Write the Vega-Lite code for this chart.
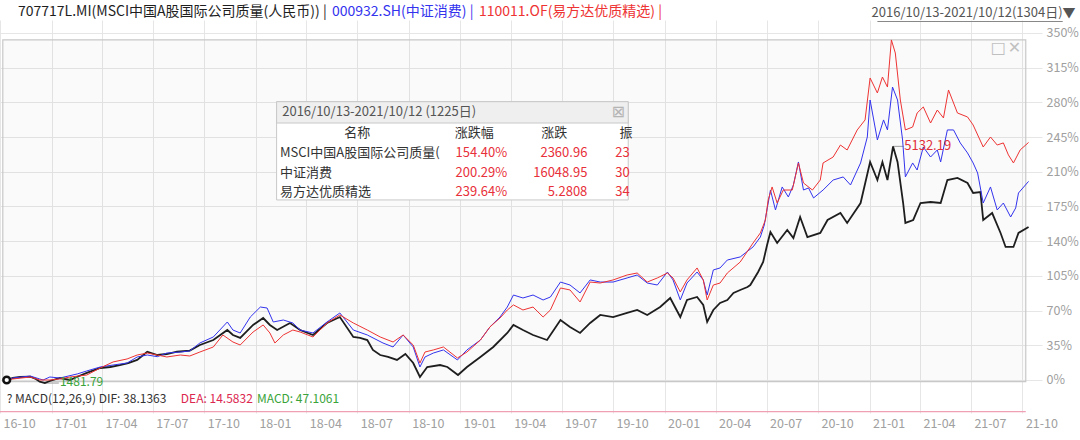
{
"$schema": "https://vega.github.io/schema/vega-lite/v6.json",
"width": 1042,
"height": 393,
"autosize": {"type": "none"},
"padding": {"left": 0, "top": 20, "right": 38, "bottom": 27},
"background": "#ffffff",
"config": {"view": {"stroke": null}, "font": "Noto Sans CJK SC"},
"datasets": {
"series": [
{"series":"707717L.MI","date":"2016-10-13","pct":0},{"series":"707717L.MI","date":"2016-10-24","pct":2.0},{"series":"707717L.MI","date":"2016-11-06","pct":3.0},{"series":"707717L.MI","date":"2016-11-24","pct":3.3},{"series":"707717L.MI","date":"2016-12-04","pct":1.0},{"series":"707717L.MI","date":"2016-12-11","pct":-1.7},{"series":"707717L.MI","date":"2016-12-20","pct":-3.1},{"series":"707717L.MI","date":"2016-12-29","pct":-1.0},{"series":"707717L.MI","date":"2017-01-16","pct":2.0},{"series":"707717L.MI","date":"2017-02-03","pct":0.0},{"series":"707717L.MI","date":"2017-02-16","pct":3.3},{"series":"707717L.MI","date":"2017-03-05","pct":7.1},{"series":"707717L.MI","date":"2017-03-29","pct":12.1},{"series":"707717L.MI","date":"2017-04-16","pct":13.1},{"series":"707717L.MI","date":"2017-05-03","pct":15.1},{"series":"707717L.MI","date":"2017-05-18","pct":17.1},{"series":"707717L.MI","date":"2017-06-03","pct":20.2},{"series":"707717L.MI","date":"2017-06-21","pct":28.5},{"series":"707717L.MI","date":"2017-07-09","pct":25.2},{"series":"707717L.MI","date":"2017-07-26","pct":26.2},{"series":"707717L.MI","date":"2017-08-13","pct":28.5},{"series":"707717L.MI","date":"2017-09-05","pct":29.6},{"series":"707717L.MI","date":"2017-09-23","pct":35.3},{"series":"707717L.MI","date":"2017-10-17","pct":40.3},{"series":"707717L.MI","date":"2017-11-11","pct":50.4},{"series":"707717L.MI","date":"2017-11-21","pct":45.4},{"series":"707717L.MI","date":"2017-12-04","pct":42.4},{"series":"707717L.MI","date":"2017-12-27","pct":55.5},{"series":"707717L.MI","date":"2018-01-14","pct":62.5},{"series":"707717L.MI","date":"2018-01-26","pct":55.5},{"series":"707717L.MI","date":"2018-02-08","pct":50.4},{"series":"707717L.MI","date":"2018-03-03","pct":57.5},{"series":"707717L.MI","date":"2018-03-21","pct":50.4},{"series":"707717L.MI","date":"2018-04-13","pct":45.4},{"series":"707717L.MI","date":"2018-05-08","pct":57.5},{"series":"707717L.MI","date":"2018-05-31","pct":63.5},{"series":"707717L.MI","date":"2018-06-24","pct":43.4},{"series":"707717L.MI","date":"2018-07-06","pct":42.4},{"series":"707717L.MI","date":"2018-07-19","pct":40.3},{"series":"707717L.MI","date":"2018-07-29","pct":30.3},{"series":"707717L.MI","date":"2018-08-11","pct":25.2},{"series":"707717L.MI","date":"2018-08-25","pct":23.2},{"series":"707717L.MI","date":"2018-09-10","pct":20.2},{"series":"707717L.MI","date":"2018-09-25","pct":26.2},{"series":"707717L.MI","date":"2018-10-09","pct":17.1},{"series":"707717L.MI","date":"2018-10-21","pct":3.0},{"series":"707717L.MI","date":"2018-11-03","pct":13.1},{"series":"707717L.MI","date":"2018-11-26","pct":15.1},{"series":"707717L.MI","date":"2018-12-09","pct":13.1},{"series":"707717L.MI","date":"2018-12-28","pct":5.0},{"series":"707717L.MI","date":"2019-01-13","pct":13.1},{"series":"707717L.MI","date":"2019-02-06","pct":23.2},{"series":"707717L.MI","date":"2019-03-01","pct":33.3},{"series":"707717L.MI","date":"2019-03-26","pct":47.4},{"series":"707717L.MI","date":"2019-04-06","pct":55.5},{"series":"707717L.MI","date":"2019-04-23","pct":50.4},{"series":"707717L.MI","date":"2019-05-11","pct":45.4},{"series":"707717L.MI","date":"2019-06-05","pct":40.3},{"series":"707717L.MI","date":"2019-06-29","pct":60.5},{"series":"707717L.MI","date":"2019-07-16","pct":53.5},{"series":"707717L.MI","date":"2019-08-03","pct":47.4},{"series":"707717L.MI","date":"2019-08-21","pct":57.5},{"series":"707717L.MI","date":"2019-09-08","pct":65.6},{"series":"707717L.MI","date":"2019-10-01","pct":63.5},{"series":"707717L.MI","date":"2019-10-26","pct":67.6},{"series":"707717L.MI","date":"2019-11-13","pct":70.6},{"series":"707717L.MI","date":"2019-12-01","pct":65.6},{"series":"707717L.MI","date":"2019-12-24","pct":73.6},{"series":"707717L.MI","date":"2020-01-11","pct":82.7},{"series":"707717L.MI","date":"2020-01-29","pct":63.5},{"series":"707717L.MI","date":"2020-02-10","pct":80.7},{"series":"707717L.MI","date":"2020-02-28","pct":83.7},{"series":"707717L.MI","date":"2020-03-10","pct":75.7},{"series":"707717L.MI","date":"2020-03-17","pct":58.5},{"series":"707717L.MI","date":"2020-03-28","pct":70.6},{"series":"707717L.MI","date":"2020-04-09","pct":77.7},{"series":"707717L.MI","date":"2020-04-22","pct":80.7},{"series":"707717L.MI","date":"2020-05-03","pct":87.8},{"series":"707717L.MI","date":"2020-05-15","pct":90.8},{"series":"707717L.MI","date":"2020-05-28","pct":93.8},{"series":"707717L.MI","date":"2020-06-02","pct":95.8},{"series":"707717L.MI","date":"2020-06-16","pct":108.9},{"series":"707717L.MI","date":"2020-06-25","pct":119.0},{"series":"707717L.MI","date":"2020-07-02","pct":136.2},{"series":"707717L.MI","date":"2020-07-08","pct":149.3},{"series":"707717L.MI","date":"2020-07-20","pct":138.2},{"series":"707717L.MI","date":"2020-08-07","pct":151.3},{"series":"707717L.MI","date":"2020-08-18","pct":143.2},{"series":"707717L.MI","date":"2020-08-30","pct":164.4},{"series":"707717L.MI","date":"2020-09-12","pct":144.2},{"series":"707717L.MI","date":"2020-10-05","pct":148.3},{"series":"707717L.MI","date":"2020-10-18","pct":161.4},{"series":"707717L.MI","date":"2020-11-10","pct":168.4},{"series":"707717L.MI","date":"2020-11-22","pct":158.4},{"series":"707717L.MI","date":"2020-12-16","pct":178.5},{"series":"707717L.MI","date":"2021-01-02","pct":219.9},{"series":"707717L.MI","date":"2021-01-15","pct":201.7},{"series":"707717L.MI","date":"2021-01-24","pct":219.9},{"series":"707717L.MI","date":"2021-02-02","pct":201.7},{"series":"707717L.MI","date":"2021-02-12","pct":235.6},{"series":"707717L.MI","date":"2021-02-20","pct":219.9},{"series":"707717L.MI","date":"2021-03-02","pct":178.5},{"series":"707717L.MI","date":"2021-03-06","pct":158.4},{"series":"707717L.MI","date":"2021-03-20","pct":161.4},{"series":"707717L.MI","date":"2021-04-02","pct":178.5},{"series":"707717L.MI","date":"2021-04-20","pct":179.5},{"series":"707717L.MI","date":"2021-05-08","pct":178.5},{"series":"707717L.MI","date":"2021-05-20","pct":201.7},{"series":"707717L.MI","date":"2021-06-07","pct":203.8},{"series":"707717L.MI","date":"2021-06-25","pct":198.7},{"series":"707717L.MI","date":"2021-07-05","pct":188.6},{"series":"707717L.MI","date":"2021-07-18","pct":189.6},{"series":"707717L.MI","date":"2021-07-23","pct":161.4},{"series":"707717L.MI","date":"2021-08-08","pct":168.4},{"series":"707717L.MI","date":"2021-08-23","pct":148.3},{"series":"707717L.MI","date":"2021-09-01","pct":134.2},{"series":"707717L.MI","date":"2021-09-15","pct":134.2},{"series":"707717L.MI","date":"2021-09-24","pct":148.3},{"series":"707717L.MI","date":"2021-10-12","pct":154.4},
{"series":"000932.SH","date":"2016-10-13","pct":0},{"series":"000932.SH","date":"2016-10-24","pct":2.0},{"series":"000932.SH","date":"2016-11-24","pct":4.0},{"series":"000932.SH","date":"2016-12-11","pct":1.0},{"series":"000932.SH","date":"2016-12-17","pct":0},{"series":"000932.SH","date":"2016-12-29","pct":3.0},{"series":"000932.SH","date":"2017-01-16","pct":2.0},{"series":"000932.SH","date":"2017-02-16","pct":6.1},{"series":"000932.SH","date":"2017-03-05","pct":9.1},{"series":"000932.SH","date":"2017-03-29","pct":13.1},{"series":"000932.SH","date":"2017-04-21","pct":15.1},{"series":"000932.SH","date":"2017-05-16","pct":17.1},{"series":"000932.SH","date":"2017-06-03","pct":23.2},{"series":"000932.SH","date":"2017-06-21","pct":25.2},{"series":"000932.SH","date":"2017-07-09","pct":23.5},{"series":"000932.SH","date":"2017-07-26","pct":27.2},{"series":"000932.SH","date":"2017-08-19","pct":28.2},{"series":"000932.SH","date":"2017-09-05","pct":29.3},{"series":"000932.SH","date":"2017-09-23","pct":37.3},{"series":"000932.SH","date":"2017-10-17","pct":43.4},{"series":"000932.SH","date":"2017-11-11","pct":58.5},{"series":"000932.SH","date":"2017-11-21","pct":50.4},{"series":"000932.SH","date":"2017-12-04","pct":47.4},{"series":"000932.SH","date":"2017-12-22","pct":63.5},{"series":"000932.SH","date":"2018-01-09","pct":73.6},{"series":"000932.SH","date":"2018-01-21","pct":72.6},{"series":"000932.SH","date":"2018-02-01","pct":58.5},{"series":"000932.SH","date":"2018-02-19","pct":60.5},{"series":"000932.SH","date":"2018-03-08","pct":57.5},{"series":"000932.SH","date":"2018-03-21","pct":50.4},{"series":"000932.SH","date":"2018-04-13","pct":47.4},{"series":"000932.SH","date":"2018-05-08","pct":58.5},{"series":"000932.SH","date":"2018-05-31","pct":67.6},{"series":"000932.SH","date":"2018-06-24","pct":50.4},{"series":"000932.SH","date":"2018-07-19","pct":45.4},{"series":"000932.SH","date":"2018-08-16","pct":37.3},{"series":"000932.SH","date":"2018-09-03","pct":33.3},{"series":"000932.SH","date":"2018-09-21","pct":45.4},{"series":"000932.SH","date":"2018-10-09","pct":33.3},{"series":"000932.SH","date":"2018-10-21","pct":13.1},{"series":"000932.SH","date":"2018-10-30","pct":23.2},{"series":"000932.SH","date":"2018-11-14","pct":27.2},{"series":"000932.SH","date":"2018-12-02","pct":30.3},{"series":"000932.SH","date":"2018-12-27","pct":20.2},{"series":"000932.SH","date":"2019-01-13","pct":30.3},{"series":"000932.SH","date":"2019-02-06","pct":40.3},{"series":"000932.SH","date":"2019-02-23","pct":53.5},{"series":"000932.SH","date":"2019-03-13","pct":63.5},{"series":"000932.SH","date":"2019-03-26","pct":73.6},{"series":"000932.SH","date":"2019-04-06","pct":85.7},{"series":"000932.SH","date":"2019-04-23","pct":82.7},{"series":"000932.SH","date":"2019-05-11","pct":85.7},{"series":"000932.SH","date":"2019-05-29","pct":80.7},{"series":"000932.SH","date":"2019-06-11","pct":83.7},{"series":"000932.SH","date":"2019-06-29","pct":98.8},{"series":"000932.SH","date":"2019-07-16","pct":95.8},{"series":"000932.SH","date":"2019-08-03","pct":87.8},{"series":"000932.SH","date":"2019-08-21","pct":100.9},{"series":"000932.SH","date":"2019-09-08","pct":98.8},{"series":"000932.SH","date":"2019-10-01","pct":98.8},{"series":"000932.SH","date":"2019-10-26","pct":102.9},{"series":"000932.SH","date":"2019-11-13","pct":105.9},{"series":"000932.SH","date":"2019-12-01","pct":97.8},{"series":"000932.SH","date":"2019-12-19","pct":95.8},{"series":"000932.SH","date":"2020-01-06","pct":108.9},{"series":"000932.SH","date":"2020-01-16","pct":100.9},{"series":"000932.SH","date":"2020-01-29","pct":80.7},{"series":"000932.SH","date":"2020-02-10","pct":97.8},{"series":"000932.SH","date":"2020-02-28","pct":108.9},{"series":"000932.SH","date":"2020-03-10","pct":100.9},{"series":"000932.SH","date":"2020-03-17","pct":85.7},{"series":"000932.SH","date":"2020-03-28","pct":111.0},{"series":"000932.SH","date":"2020-04-09","pct":113.0},{"series":"000932.SH","date":"2020-04-22","pct":121.0},{"series":"000932.SH","date":"2020-05-15","pct":124.1},{"series":"000932.SH","date":"2020-06-07","pct":134.2},{"series":"000932.SH","date":"2020-06-20","pct":144.2},{"series":"000932.SH","date":"2020-06-27","pct":156.3},{"series":"000932.SH","date":"2020-07-04","pct":178.5},{"series":"000932.SH","date":"2020-07-08","pct":191.6},{"series":"000932.SH","date":"2020-07-17","pct":171.5},{"series":"000932.SH","date":"2020-07-29","pct":194.7},{"series":"000932.SH","date":"2020-08-09","pct":184.6},{"series":"000932.SH","date":"2020-08-18","pct":196.7},{"series":"000932.SH","date":"2020-08-27","pct":219.9},{"series":"000932.SH","date":"2020-09-05","pct":191.6},{"series":"000932.SH","date":"2020-09-14","pct":193.7},{"series":"000932.SH","date":"2020-09-23","pct":183.6},{"series":"000932.SH","date":"2020-10-10","pct":191.6},{"series":"000932.SH","date":"2020-10-28","pct":201.7},{"series":"000932.SH","date":"2020-11-15","pct":204.8},{"series":"000932.SH","date":"2020-11-28","pct":196.7},{"series":"000932.SH","date":"2020-12-16","pct":218.9},{"series":"000932.SH","date":"2020-12-28","pct":245.1},{"series":"000932.SH","date":"2021-01-02","pct":282.4},{"series":"000932.SH","date":"2021-01-15","pct":242.1},{"series":"000932.SH","date":"2021-01-26","pct":262.3},{"series":"000932.SH","date":"2021-02-02","pct":252.2},{"series":"000932.SH","date":"2021-02-11","pct":295.5},{"series":"000932.SH","date":"2021-02-20","pct":282.4},{"series":"000932.SH","date":"2021-03-01","pct":242.1},{"series":"000932.SH","date":"2021-03-06","pct":204.8},{"series":"000932.SH","date":"2021-03-19","pct":218.9},{"series":"000932.SH","date":"2021-03-27","pct":211.8},{"series":"000932.SH","date":"2021-04-07","pct":235.0},{"series":"000932.SH","date":"2021-04-20","pct":224.9},{"series":"000932.SH","date":"2021-05-02","pct":232.0},{"series":"000932.SH","date":"2021-05-08","pct":219.9},{"series":"000932.SH","date":"2021-05-20","pct":252.2},{"series":"000932.SH","date":"2021-05-31","pct":252.2},{"series":"000932.SH","date":"2021-06-12","pct":239.1},{"series":"000932.SH","date":"2021-06-25","pct":229.0},{"series":"000932.SH","date":"2021-07-05","pct":218.9},{"series":"000932.SH","date":"2021-07-13","pct":208.8},{"series":"000932.SH","date":"2021-07-23","pct":178.5},{"series":"000932.SH","date":"2021-08-05","pct":194.7},{"series":"000932.SH","date":"2021-08-17","pct":171.5},{"series":"000932.SH","date":"2021-08-28","pct":178.5},{"series":"000932.SH","date":"2021-09-10","pct":164.4},{"series":"000932.SH","date":"2021-09-19","pct":173.5},{"series":"000932.SH","date":"2021-09-24","pct":188.6},{"series":"000932.SH","date":"2021-10-12","pct":200.3},
{"series":"110011.OF","date":"2016-10-13","pct":0},{"series":"110011.OF","date":"2016-10-24","pct":1.0},{"series":"110011.OF","date":"2016-11-24","pct":3.0},{"series":"110011.OF","date":"2016-12-11","pct":0},{"series":"110011.OF","date":"2016-12-29","pct":0},{"series":"110011.OF","date":"2017-01-16","pct":1.0},{"series":"110011.OF","date":"2017-02-03","pct":3.0},{"series":"110011.OF","date":"2017-03-05","pct":5.0},{"series":"110011.OF","date":"2017-03-29","pct":12.1},{"series":"110011.OF","date":"2017-04-21","pct":18.2},{"series":"110011.OF","date":"2017-05-16","pct":21.2},{"series":"110011.OF","date":"2017-06-03","pct":25.2},{"series":"110011.OF","date":"2017-06-21","pct":27.2},{"series":"110011.OF","date":"2017-07-09","pct":25.2},{"series":"110011.OF","date":"2017-07-26","pct":23.2},{"series":"110011.OF","date":"2017-08-19","pct":25.2},{"series":"110011.OF","date":"2017-09-05","pct":24.2},{"series":"110011.OF","date":"2017-09-23","pct":28.2},{"series":"110011.OF","date":"2017-10-17","pct":33.3},{"series":"110011.OF","date":"2017-11-03","pct":45.4},{"series":"110011.OF","date":"2017-11-21","pct":38.3},{"series":"110011.OF","date":"2017-12-04","pct":35.3},{"series":"110011.OF","date":"2017-12-27","pct":48.4},{"series":"110011.OF","date":"2018-01-14","pct":55.5},{"series":"110011.OF","date":"2018-01-26","pct":47.4},{"series":"110011.OF","date":"2018-02-04","pct":37.3},{"series":"110011.OF","date":"2018-02-19","pct":45.4},{"series":"110011.OF","date":"2018-03-08","pct":50.4},{"series":"110011.OF","date":"2018-03-21","pct":48.4},{"series":"110011.OF","date":"2018-04-13","pct":43.4},{"series":"110011.OF","date":"2018-05-08","pct":57.5},{"series":"110011.OF","date":"2018-05-31","pct":65.6},{"series":"110011.OF","date":"2018-06-24","pct":57.5},{"series":"110011.OF","date":"2018-07-19","pct":50.4},{"series":"110011.OF","date":"2018-08-11","pct":43.4},{"series":"110011.OF","date":"2018-09-03","pct":38.3},{"series":"110011.OF","date":"2018-09-21","pct":45.4},{"series":"110011.OF","date":"2018-10-09","pct":35.3},{"series":"110011.OF","date":"2018-10-21","pct":17.1},{"series":"110011.OF","date":"2018-10-30","pct":28.2},{"series":"110011.OF","date":"2018-11-14","pct":30.3},{"series":"110011.OF","date":"2018-12-02","pct":33.3},{"series":"110011.OF","date":"2018-12-27","pct":22.2},{"series":"110011.OF","date":"2019-01-13","pct":28.2},{"series":"110011.OF","date":"2019-02-06","pct":40.3},{"series":"110011.OF","date":"2019-02-23","pct":53.5},{"series":"110011.OF","date":"2019-03-13","pct":62.5},{"series":"110011.OF","date":"2019-03-26","pct":70.6},{"series":"110011.OF","date":"2019-04-06","pct":75.7},{"series":"110011.OF","date":"2019-04-23","pct":70.6},{"series":"110011.OF","date":"2019-05-11","pct":73.6},{"series":"110011.OF","date":"2019-05-29","pct":63.5},{"series":"110011.OF","date":"2019-06-11","pct":70.6},{"series":"110011.OF","date":"2019-06-29","pct":92.8},{"series":"110011.OF","date":"2019-07-16","pct":90.8},{"series":"110011.OF","date":"2019-08-03","pct":78.7},{"series":"110011.OF","date":"2019-08-21","pct":98.8},{"series":"110011.OF","date":"2019-09-08","pct":97.8},{"series":"110011.OF","date":"2019-10-01","pct":100.9},{"series":"110011.OF","date":"2019-10-26","pct":105.9},{"series":"110011.OF","date":"2019-11-13","pct":107.9},{"series":"110011.OF","date":"2019-12-01","pct":98.8},{"series":"110011.OF","date":"2019-12-19","pct":102.9},{"series":"110011.OF","date":"2020-01-06","pct":107.9},{"series":"110011.OF","date":"2020-01-16","pct":102.9},{"series":"110011.OF","date":"2020-01-29","pct":88.8},{"series":"110011.OF","date":"2020-02-10","pct":100.9},{"series":"110011.OF","date":"2020-02-28","pct":113.0},{"series":"110011.OF","date":"2020-03-10","pct":100.9},{"series":"110011.OF","date":"2020-03-17","pct":80.7},{"series":"110011.OF","date":"2020-03-28","pct":95.8},{"series":"110011.OF","date":"2020-04-09","pct":97.8},{"series":"110011.OF","date":"2020-04-22","pct":107.9},{"series":"110011.OF","date":"2020-05-15","pct":119.0},{"series":"110011.OF","date":"2020-06-07","pct":138.2},{"series":"110011.OF","date":"2020-06-20","pct":148.3},{"series":"110011.OF","date":"2020-06-29","pct":161.4},{"series":"110011.OF","date":"2020-07-04","pct":181.6},{"series":"110011.OF","date":"2020-07-11","pct":194.7},{"series":"110011.OF","date":"2020-07-20","pct":178.5},{"series":"110011.OF","date":"2020-07-31","pct":191.6},{"series":"110011.OF","date":"2020-08-16","pct":191.6},{"series":"110011.OF","date":"2020-08-27","pct":218.9},{"series":"110011.OF","date":"2020-09-05","pct":198.7},{"series":"110011.OF","date":"2020-09-21","pct":191.6},{"series":"110011.OF","date":"2020-10-05","pct":201.7},{"series":"110011.OF","date":"2020-10-10","pct":218.9},{"series":"110011.OF","date":"2020-10-28","pct":224.9},{"series":"110011.OF","date":"2020-11-10","pct":237.0},{"series":"110011.OF","date":"2020-11-22","pct":232.0},{"series":"110011.OF","date":"2020-12-10","pct":252.2},{"series":"110011.OF","date":"2020-12-24","pct":262.3},{"series":"110011.OF","date":"2021-01-02","pct":304.6},{"series":"110011.OF","date":"2021-01-15","pct":289.5},{"series":"110011.OF","date":"2021-01-24","pct":305.6},{"series":"110011.OF","date":"2021-02-02","pct":295.5},{"series":"110011.OF","date":"2021-02-09","pct":343.0},{"series":"110011.OF","date":"2021-02-16","pct":329.8},{"series":"110011.OF","date":"2021-02-25","pct":282.4},{"series":"110011.OF","date":"2021-03-06","pct":252.2},{"series":"110011.OF","date":"2021-03-19","pct":255.2},{"series":"110011.OF","date":"2021-03-27","pct":269.3},{"series":"110011.OF","date":"2021-04-07","pct":275.4},{"series":"110011.OF","date":"2021-04-20","pct":259.2},{"series":"110011.OF","date":"2021-05-02","pct":272.3},{"series":"110011.OF","date":"2021-05-13","pct":264.3},{"series":"110011.OF","date":"2021-05-22","pct":292.5},{"series":"110011.OF","date":"2021-06-07","pct":269.3},{"series":"110011.OF","date":"2021-06-25","pct":265.3},{"series":"110011.OF","date":"2021-07-05","pct":257.2},{"series":"110011.OF","date":"2021-07-23","pct":235.0},{"series":"110011.OF","date":"2021-08-05","pct":245.1},{"series":"110011.OF","date":"2021-08-17","pct":237.0},{"series":"110011.OF","date":"2021-08-28","pct":239.1},{"series":"110011.OF","date":"2021-09-06","pct":227.0},{"series":"110011.OF","date":"2021-09-15","pct":218.9},{"series":"110011.OF","date":"2021-09-27","pct":232.0},{"series":"110011.OF","date":"2021-10-12","pct":239.6}
],
"notes": [
{"kind":"range","label":"2016/10/13-2021/10/12(1304日)▼","date":"2022-01-04","pct":370},
{"kind":"min","label":"1481.79","date":"2017-01-16","pct":-2.4},
{"kind":"max","label":"5132.19","date":"2021-03-04","pct":235.6},
{"kind":"dif","label":"? MACD(12,26,9) DIF: 38.1363","date":"2016-10-13","pct":-19.6},
{"kind":"dea","label":"DEA: 14.5832","date":"2017-08-20","pct":-19.6},
{"kind":"macd","label":"MACD: 47.1061","date":"2018-01-03","pct":-19.6},
{"kind":"title","label":"2016/10/13-2021/10/12 (1225日)","date":"2018-02-17","pct":270.3},
{"kind":"header","label":"名称","date":"2018-07-01","pct":249.1},
{"kind":"header","label":"涨跌幅","date":"2019-01-26","pct":249.1},
{"kind":"header","label":"涨跌","date":"2019-06-18","pct":249.1},
{"kind":"header","label":"振","date":"2019-10-24","pct":249.1},
{"kind":"name","label":"MSCI中国A股国际公司质量(","date":"2018-02-13","pct":229.3},
{"kind":"name","label":"中证消费","date":"2018-02-13","pct":209.1},
{"kind":"name","label":"易方达优质精选","date":"2018-02-13","pct":189.6},
{"kind":"value","label":"154.40%","date":"2019-03-26","pct":229.3},
{"kind":"value","label":"200.29%","date":"2019-03-26","pct":209.1},
{"kind":"value","label":"239.64%","date":"2019-03-26","pct":189.6},
{"kind":"value","label":"2360.96","date":"2019-08-16","pct":229.3},
{"kind":"value","label":"16048.95","date":"2019-08-16","pct":209.1},
{"kind":"value","label":"5.2808","date":"2019-08-16","pct":189.6},
{"kind":"cut","label":"23","date":"2019-10-05","pct":229.3},
{"kind":"cut","label":"30","date":"2019-10-05","pct":209.1},
{"kind":"cut","label":"34","date":"2019-10-05","pct":189.6},
{"kind":"close","label":"⊠","date":"2019-10-10","pct":270.3},
{"kind":"icon","label":"□","date":"2021-08-19","pct":335},
{"kind":"icon","label":"✕","date":"2021-09-17","pct":335},
{"kind":"start","label":"","date":"2016-10-13","pct":0}
],
"boxes": [
{"kind":"frame","date":"2016-10-06","date2":"2021-10-07","pct":-1.7,"pct2":343},
{"kind":"table","date":"2018-02-07","date2":"2019-10-28","pct":181.6,"pct2":280.7},
{"kind":"tbar","date":"2018-02-07","date2":"2019-10-28","pct":259.2,"pct2":280.7}
],
"rules": [
{"kind":"macdline","date":"2016-10-01","date2":"2021-10-07","pct":-32},
{"kind":"leader","date":"2021-02-12","date2":"2021-03-03","pct":235.6},
{"kind":"leader","date":"2016-12-20","date2":"2017-01-14","pct":-3.1},
{"kind":"underline","date":"2021-01-15","date2":"2021-12-12","pct":361.6}
]
},
"encoding": {
"x": {"field": "date", "type": "temporal", "title": null,
 "scale": {"domain": [{"year":2016,"month":10,"date":1},{"year":2021,"month":11,"date":5}], "nice": false},
 "axis": {"values": [{"year":2016,"month":10,"date":1},{"year":2017,"month":1,"date":1},{"year":2017,"month":4,"date":1},{"year":2017,"month":7,"date":1},{"year":2017,"month":10,"date":1},{"year":2018,"month":1,"date":1},{"year":2018,"month":4,"date":1},{"year":2018,"month":7,"date":1},{"year":2018,"month":10,"date":1},{"year":2019,"month":1,"date":1},{"year":2019,"month":4,"date":1},{"year":2019,"month":7,"date":1},{"year":2019,"month":10,"date":1},{"year":2020,"month":1,"date":1},{"year":2020,"month":4,"date":1},{"year":2020,"month":7,"date":1},{"year":2020,"month":10,"date":1},{"year":2021,"month":1,"date":1},{"year":2021,"month":4,"date":1},{"year":2021,"month":7,"date":1},{"year":2021,"month":10,"date":1}],
  "format": "%y-%m", "labelAlign": "left", "labelOffset": 3, "labelPadding": 4, "labelColor": "#a0a0a0", "labelFontSize": 12.5, "labelFont": "Noto Sans CJK SC", "labelFlush": false, "labelOverlap": false, "labelBound": false, "ticks": false, "domain": false, "grid": true, "gridColor": "#e6e6e6"}},
"y": {"field": "pct", "type": "quantitative", "title": null,
 "scale": {"domain": [-33.3, 363.1], "nice": false, "zero": false},
 "axis": {"orient": "right", "values": [0,35,70,105,140,175,210,245,280,315,350], "labelExpr": "datum.value + '%'", "labelColor": "#a0a0a0", "labelFontSize": 12.5, "labelFont": "Noto Sans CJK SC", "labelPadding": 4, "labelFlush": false, "ticks": false, "domain": false, "grid": true, "gridColor": "#e6e6e6"}}
},
"layer": [
{"data": {"name": "boxes"}, "transform": [{"filter": "datum.kind == 'frame'"}],
 "mark": {"type": "rect", "fill": "#000000", "fillOpacity": 0.02, "stroke": "#c8c8c8", "strokeWidth": 1.2},
 "encoding": {"x2": {"field": "date2"}, "y2": {"field": "pct2"}}},
{"data": {"name": "rules"},
 "mark": {"type": "rule", "strokeWidth": 1.2},
 "encoding": {"x2": {"field": "date2"},
  "stroke": {"field": "kind", "type": "nominal", "scale": {"domain": ["macdline","leader","underline"], "range": ["#f0a0b5","#aaaaaa","#888888"]}, "legend": null}}},
{"data": {"name": "series"},
 "mark": {"type": "line", "interpolate": "linear"},
 "encoding": {
  "color": {"field": "series", "type": "nominal",
   "scale": {"domain": ["707717L.MI","000932.SH","110011.OF"], "range": ["#1e1e1e","#3333ee","#ee3333"]},
   "legend": {"orient": "none", "legendX": 4, "legendY": -15, "direction": "horizontal", "title": null, "gridAlign": "none",
    "symbolSize": 1, "symbolStrokeWidth": 0, "symbolOpacity": 0, "labelOffset": 0, "columnPadding": -9, "padding": 0,
    "labelFont": "Noto Sans CJK SC", "labelFontSize": 14, "labelLimit": 1000,
    "labelExpr": "datum.label == '707717L.MI' ? '707717L.MI(MSCI中国A股国际公司质量(人民币)) |' : datum.label == '000932.SH' ? '000932.SH(中证消费) |' : '110011.OF(易方达优质精选) |'",
    "encode": {"labels": {"update": {"fill": {"scale": "color", "field": "value"}}}}}},
  "strokeWidth": {"field": "series", "type": "ordinal", "scale": {"type": "ordinal", "domain": ["707717L.MI","000932.SH","110011.OF"], "range": [1.8, 1, 1]}, "legend": null}}},
{"data": {"name": "notes"}, "transform": [{"filter": "datum.kind == 'start'"}],
 "mark": {"type": "point", "shape": "circle", "filled": true, "fill": "#ffffff", "stroke": "#111111", "strokeWidth": 2.5, "size": 45, "opacity": 1}},
{"data": {"name": "boxes"}, "transform": [{"filter": "datum.kind == 'table'"}],
 "mark": {"type": "rect", "fill": "#ffffff", "stroke": "#c8c8c8", "strokeWidth": 1},
 "encoding": {"x2": {"field": "date2"}, "y2": {"field": "pct2"}}},
{"data": {"name": "boxes"}, "transform": [{"filter": "datum.kind == 'tbar'"}],
 "mark": {"type": "rect", "fill": "#efefef", "stroke": "#c8c8c8", "strokeWidth": 1},
 "encoding": {"x2": {"field": "date2"}, "y2": {"field": "pct2"}}},
{"data": {"name": "notes"}, "transform": [{"filter": "indexof(['max','title','name','cut'], datum.kind) >= 0"}],
 "mark": {"type": "text", "align": "left", "baseline": "middle", "fontSize": 13, "font": "Noto Sans CJK SC"},
 "encoding": {"text": {"field": "label"},
  "fill": {"field": "kind", "type": "nominal", "scale": {"domain": ["range","min","max","dif","dea","macd","title","header","name","value","cut","close","icon","start"], "range": ["#555555","#3aa43a","#e0303a","#333333","#dc2850","#3aa43a","#555555","#333333","#333333","#e8303a","#e8303a","#b5b5b5","#c0c0c0","#ffffff"]}, "legend": null}}},
{"data": {"name": "notes"}, "transform": [{"filter": "indexof(['min','dif','dea','macd'], datum.kind) >= 0"}],
 "mark": {"type": "text", "align": "left", "baseline": "middle", "fontSize": 12, "font": "Noto Sans CJK SC"},
 "encoding": {"text": {"field": "label"}, "fill": {"field": "kind", "type": "nominal", "legend": null}}},
{"data": {"name": "notes"}, "transform": [{"filter": "datum.kind == 'header'"}],
 "mark": {"type": "text", "align": "center", "baseline": "middle", "fontSize": 13, "font": "Noto Sans CJK SC"},
 "encoding": {"text": {"field": "label"}, "fill": {"field": "kind", "type": "nominal", "legend": null}}},
{"data": {"name": "notes"}, "transform": [{"filter": "datum.kind == 'value' || datum.kind == 'range'"}],
 "mark": {"type": "text", "align": "right", "baseline": "middle", "fontSize": 13, "font": "Noto Sans CJK SC"},
 "encoding": {"text": {"field": "label"}, "fill": {"field": "kind", "type": "nominal", "legend": null}}},
{"data": {"name": "notes"}, "transform": [{"filter": "datum.kind == 'icon' || datum.kind == 'close'"}],
 "mark": {"type": "text", "align": "center", "baseline": "middle", "fontSize": 16, "font": "DejaVu Sans"},
 "encoding": {"text": {"field": "label"}, "fill": {"field": "kind", "type": "nominal", "legend": null}}}
]
}
